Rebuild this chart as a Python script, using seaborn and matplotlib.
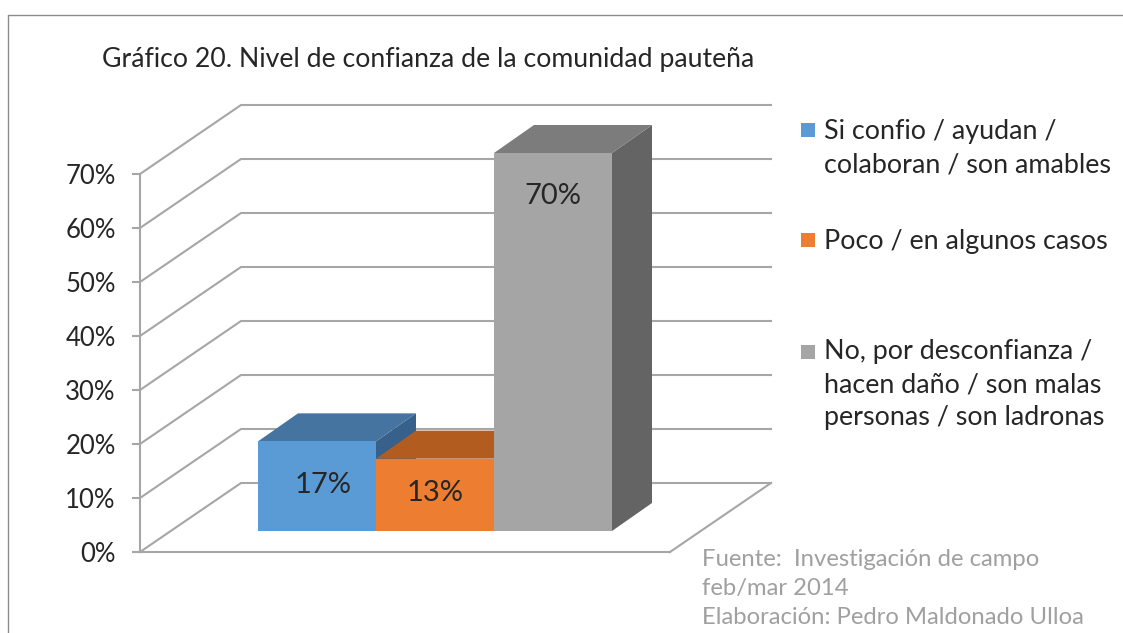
import matplotlib
matplotlib.use('Agg')
import matplotlib.pyplot as plt
from matplotlib.lines import Line2D
from matplotlib.patches import Rectangle
import pandas as pd
import seaborn as sns

categories = ['Si confio / ayudan /\ncolaboran / son amables',
              'Poco / en algunos casos',
              'No, por desconfianza /\nhacen daño / son malas\npersonas / son ladronas']
values = [16.6, 13.4, 70.0]
y_ticks = [0, 10, 20, 30, 40, 50, 60, 70]
title = 'Gráfico 20. Nivel de confianza de la comunidad pauteña'
source_lines = ['Fuente:  Investigación de campo', 'feb/mar 2014', 'Elaboración: Pedro Maldonado Ulloa']

front_colors = ['#5b9bd5', '#ed7d31', '#a5a5a5']
top_colors = ['#44749f', '#b35c20', '#7c7c7c']
side_colors = ['#37618a', '#8f4d1e', '#646464']
line_color = '#a6a6a6'
text_color = '#262626'

W, H = 1123, 633
UNIT_PX = 118.0
PCT_PX = 5.4


def fx(px):
    return px / W


def fy(py):
    return 1 - py / H


sns.set_theme(style='white')
plt.rcParams['font.family'] = ['Lato', 'DejaVu Sans']

fig = plt.figure(figsize=(W / 100, H / 100), dpi=100, facecolor='white')
ax = fig.add_axes([fx(140), fy(552), 530 / W, 378 / H])
ax.patch.set_alpha(0)

df = pd.DataFrame({'categoria': categories, 'valor': values})
bar_base = 21 / PCT_PX
sns.barplot(data=df, x='categoria', y='valor', hue='categoria', palette=front_colors,
            dodge=False, width=1, saturation=1, legend=False, bottom=bar_base, ax=ax)
for patch in ax.patches:
    patch.set_zorder(5)
    patch.set_linewidth(0)
    patch.set_clip_on(False)

ax.set_xlim(-1.5, 2.5 + 58 / UNIT_PX)
ax.set_ylim(0, 70)
ax.set_xlabel('')
ax.set_ylabel('')

# fake 3d walls
wall_dx = 101 / UNIT_PX
wall_dy = 69 / PCT_PX
x0, x1 = ax.get_xlim()
line_kw = dict(color=line_color, lw=1.5, clip_on=False, zorder=1, solid_capstyle='projecting')
for t in y_ticks:
    ax.plot([x0, x0 + wall_dx, x1 + wall_dx], [t, t + wall_dy, t + wall_dy], **line_kw)
ax.plot([x1, x1 + wall_dx], [0, wall_dy], **line_kw)

# fake 3d bar faces, tops go over the sides so the orange top cuts the blue side
bar_dx = 40 / UNIT_PX
bar_dy = 28 / PCT_PX
for i in range(len(values)):
    left, right = i - 0.5, i + 0.5
    low, high = bar_base, bar_base + values[i]
    ax.fill([left, right, right + bar_dx, left + bar_dx],
            [high, high, high + bar_dy, high + bar_dy],
            color=top_colors[i], lw=0, clip_on=False, zorder=3 + (2 - i) * 0.1)
    ax.fill([right, right + bar_dx, right + bar_dx, right],
            [low, low + bar_dy, high + bar_dy, high],
            color=side_colors[i], lw=0, clip_on=False, zorder=2)

# data labels sit near the top of the front face
label_drop = [44, 34, 43]
label_shift = [6, 0, 0]
for i, v in enumerate(values):
    ax.text(i + label_shift[i] / UNIT_PX, bar_base + v - label_drop[i] / PCT_PX, f'{v:.0f}%',
            ha='center', va='center', fontsize=21, color=text_color, zorder=6)

ax.set_xticks([])
ax.set_yticks(y_ticks)
ax.set_yticklabels([f'{t}%' for t in y_ticks], fontsize=18.5, color=text_color)
ax.tick_params(axis='y', left=True, length=6, width=1.5, color=line_color, pad=11.5)
sns.despine(ax=ax, top=True, right=True)
for side in ['left', 'bottom']:
    ax.spines[side].set_color(line_color)
    ax.spines[side].set_linewidth(1.5)
    ax.spines[side].set_zorder(1)

fig.text(fx(102), fy(60), title, fontsize=19.2, color=text_color, ha='left', va='center')

# legend, spacing in the original is uneven
legend_box_y = [130, 240, 352]
legend_text_y = [148, 241, 385]
for label, color, by, ty in zip(categories, front_colors, legend_box_y, legend_text_y):
    fig.add_artist(Rectangle((fx(801), fy(by + 7)), 14 / W, 14 / H, color=color, lw=0,
                             transform=fig.transFigure))
    fig.text(fx(824), fy(ty), label, fontsize=19.4, color=text_color, ha='left', va='center',
             linespacing=1.4)

for line, py in zip(source_lines, [560, 588, 617]):
    fig.text(fx(702), fy(py), line, fontsize=17.2, color='#a0a0a0', ha='left', va='center')

# outer border of the pasted chart
border = '#8c8c8c'
fig.add_artist(Line2D([fx(8), fx(8)], [fy(15), 0], color=border, lw=1))
fig.add_artist(Line2D([fx(8), 1], [fy(15), fy(15)], color=border, lw=1))

fig.savefig('out.png', dpi=100)
